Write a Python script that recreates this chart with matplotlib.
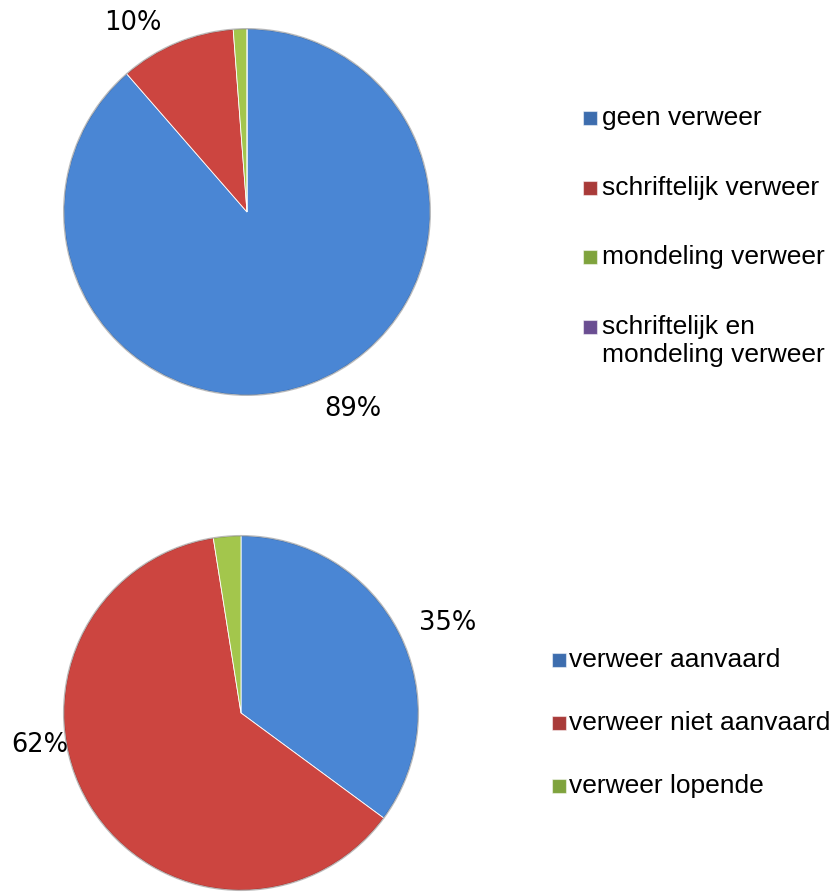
import matplotlib
matplotlib.use("Agg")
import matplotlib.pyplot as plt
from matplotlib.patches import Rectangle

W, H = 833, 893

# ---- data ----
top_labels = ["geen verweer", "schriftelijk verweer", "mondeling verweer",
              "schriftelijk en\nmondeling verweer"]
top_values = [88.6, 10.2, 1.2, 0.0]
top_colors = ["#4A86D4", "#CC4540", "#A3C64C", "#8064A2"]
top_pct_text = ["89%", "10%"]

bot_labels = ["verweer aanvaard", "verweer niet aanvaard", "verweer lopende"]
bot_values = [35.1, 62.4, 2.5]
bot_colors = ["#4A86D4", "#CC4540", "#A3C64C"]
bot_pct_text = ["35%", "62%"]

legend_colors_top = ["#3D6DAE", "#A93B39", "#7FA33D", "#6A4E92"]
legend_colors_bot = ["#3D6DAE", "#A93B39", "#7FA33D"]

fig = plt.figure(figsize=(W / 100, H / 100), dpi=100)


def fx(x):
    return x / W


def fy(y):
    return 1 - y / H


def pie_axes(cx, cy, r):
    return fig.add_axes([fx(cx - r), fy(cy + r), 2 * r / W, 2 * r / H])


def draw_pie(ax, values, colors):
    ax.pie(values, colors=colors, startangle=90, counterclock=False,
           radius=1.0,
           wedgeprops=dict(edgecolor="#FFFFFF", linewidth=0.6))
    circ = plt.Circle((0, 0), 1.0, fill=False, edgecolor="#00000040", linewidth=1.2)
    ax.add_patch(circ)
    ax.set_xlim(-1.01, 1.01)
    ax.set_ylim(-1.01, 1.01)
    ax.set_aspect("equal")
    ax.axis("off")


ax1 = pie_axes(247, 212, 185)
draw_pie(ax1, top_values, top_colors)
ax2 = pie_axes(241, 713, 179)
draw_pie(ax2, bot_values, bot_colors)

# percentage labels
pct_font = dict(fontsize=18.5, family="DejaVu Sans", color="black",
                ha="center", va="center")
top_pct_pos = [(353, 409), (133, 23)]
bot_pct_pos = [(448, 623), (40, 745)]
for t, (x, y) in zip(top_pct_text, top_pct_pos):
    fig.text(fx(x), fy(y), t, **pct_font)
for t, (x, y) in zip(bot_pct_text, bot_pct_pos):
    fig.text(fx(x), fy(y), t, **pct_font)


def draw_legend(labels, colors, sq_x, txt_x, ys):
    sq = 14
    for lab, col, y in zip(labels, colors, ys):
        fig.patches.append(Rectangle((fx(sq_x), fy(y + sq / 2)), sq / W, sq / H,
                                     transform=fig.transFigure, facecolor=col,
                                     edgecolor="#FFFFFF80", linewidth=0.8))
        fig.text(fx(txt_x), fy(y - 12), lab, fontsize=19,
                 family="Liberation Sans", ha="left", va="top",
                 linespacing=1.2, color="black")


draw_legend(top_labels, legend_colors_top, 583, 602, [118, 188, 257, 327])
draw_legend(bot_labels, legend_colors_bot, 552, 569, [660, 723, 786])

fig.savefig("out.png", dpi=100)
